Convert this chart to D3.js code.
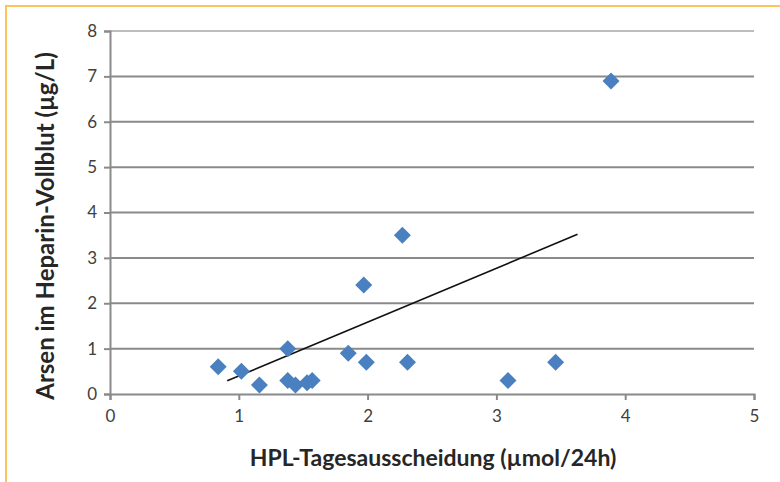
<!DOCTYPE html>
<html>
<head>
<meta charset="utf-8">
<script src="https://cdn.jsdelivr.net/npm/d3@7"></script>
<style>
  body { margin: 0; background: #fff; }
  text { font-family: Lato, "Open Sans", sans-serif; }
</style>
</head>
<body>
<div id="chart"></div>
<script>
// HPL daily excretion (µmol/24h) vs arsenic in heparin whole blood (µg/L)
var hplValues   = [0.84, 1.02, 1.16, 1.38, 1.38, 1.44, 1.53, 1.57, 1.85, 1.99, 2.31, 1.97, 2.27, 3.09, 3.46, 3.89];
var arsenValues = [0.6,  0.5,  0.2,  1.0,  0.3,  0.2,  0.25, 0.3,  0.9,  0.7,  0.7,  2.4,  3.5,  0.3,  0.7,  6.9];
var trendX = [0.91, 3.63];
var trendY = [0.29, 3.52];
var xTicks = [0, 1, 2, 3, 4, 5];
var yTicks = [0, 1, 2, 3, 4, 5, 6, 7, 8];

var w = 780, h = 482;
var plotLeft = 110, plotRight = 754, plotTop = 31, plotBottom = 394;

var svg = d3.select("#chart")
    .append("svg")
    .attr("width", w)
    .attr("height", h);

// orange frame
svg.append("line").attr("x1", 5).attr("x2", w).attr("y1", 6).attr("y2", 6)
    .attr("stroke", "#fac55a").attr("stroke-width", 2);
svg.append("line").attr("x1", 6).attr("x2", 6).attr("y1", 5).attr("y2", h)
    .attr("stroke", "#fac55a").attr("stroke-width", 2);

var x = d3.scaleLinear().domain([0, 5]).range([plotLeft, plotRight]);
var y = d3.scaleLinear().domain([0, 8]).range([plotBottom, plotTop]);

// gridlines
svg.append("g")
    .selectAll("line")
    .data(yTicks.filter(function (d) { return d > 0; }))
    .enter()
    .append("line")
    .attr("x1", plotLeft)
    .attr("x2", plotRight)
    .attr("y1", function (d) { return y(d); })
    .attr("y2", function (d) { return y(d); })
    .attr("stroke", function (d) { return d === 8 ? "#bdbdbd" : "#8a8a8a"; })
    .attr("stroke-width", 2);

// y axis
var yAxis = svg.append("g")
    .attr("transform", "translate(" + plotLeft + ",0)")
    .call(d3.axisLeft(y).tickValues(yTicks).tickFormat(d3.format("d"))
        .tickSize(6).tickPadding(7));
yAxis.select(".domain").attr("stroke", "#8a8a8a").attr("stroke-width", 2);
yAxis.selectAll(".tick line").attr("stroke", "#8a8a8a").attr("stroke-width", 2);
yAxis.selectAll(".tick text")
    .attr("font-size", 17).attr("fill", "#404040")
    .style("font-family", "Lato, 'Open Sans', sans-serif");

// x axis
var xAxis = svg.append("g")
    .attr("transform", "translate(0," + plotBottom + ")")
    .call(d3.axisBottom(x).tickValues(xTicks).tickFormat(d3.format("d"))
        .tickSize(6).tickPadding(10));
xAxis.select(".domain").attr("stroke", "#8a8a8a").attr("stroke-width", 2);
xAxis.selectAll(".tick line").attr("stroke", "#8a8a8a").attr("stroke-width", 2);
xAxis.selectAll(".tick text")
    .attr("font-size", 17).attr("fill", "#404040")
    .style("font-family", "Lato, 'Open Sans', sans-serif");

// trend line
var trend = trendX.map(function (d, i) { return [d, trendY[i]]; });
svg.append("path")
    .datum(trend)
    .attr("d", d3.line()
        .x(function (d) { return x(d[0]); })
        .y(function (d) { return y(d[1]); }))
    .attr("fill", "none")
    .attr("stroke", "#111")
    .attr("stroke-width", 1.6);

// diamonds
var points = hplValues.map(function (d, i) { return [d, arsenValues[i]]; });
svg.append("g")
    .selectAll("path")
    .data(points)
    .enter()
    .append("path")
    .attr("d", "M0,-8.5L8.5,0L0,8.5L-8.5,0Z")
    .attr("transform", function (d) {
        return "translate(" + x(d[0]) + "," + y(d[1]) + ")";
    })
    .attr("fill", "#4a80c0");

// axis titles
svg.append("text")
    .text("HPL-Tagesausscheidung (µmol/24h)")
    .attr("x", 433)
    .attr("y", 466)
    .attr("text-anchor", "middle")
    .attr("font-size", 23)
    .attr("font-weight", "bold")
    .attr("fill", "#262626");

svg.append("text")
    .text("Arsen im Heparin-Vollblut (µg/L)")
    .attr("transform", "translate(54,226) rotate(-90)")
    .attr("text-anchor", "middle")
    .attr("font-size", 24)
    .attr("font-weight", "bold")
    .attr("fill", "#262626");
</script>
</body>
</html>
